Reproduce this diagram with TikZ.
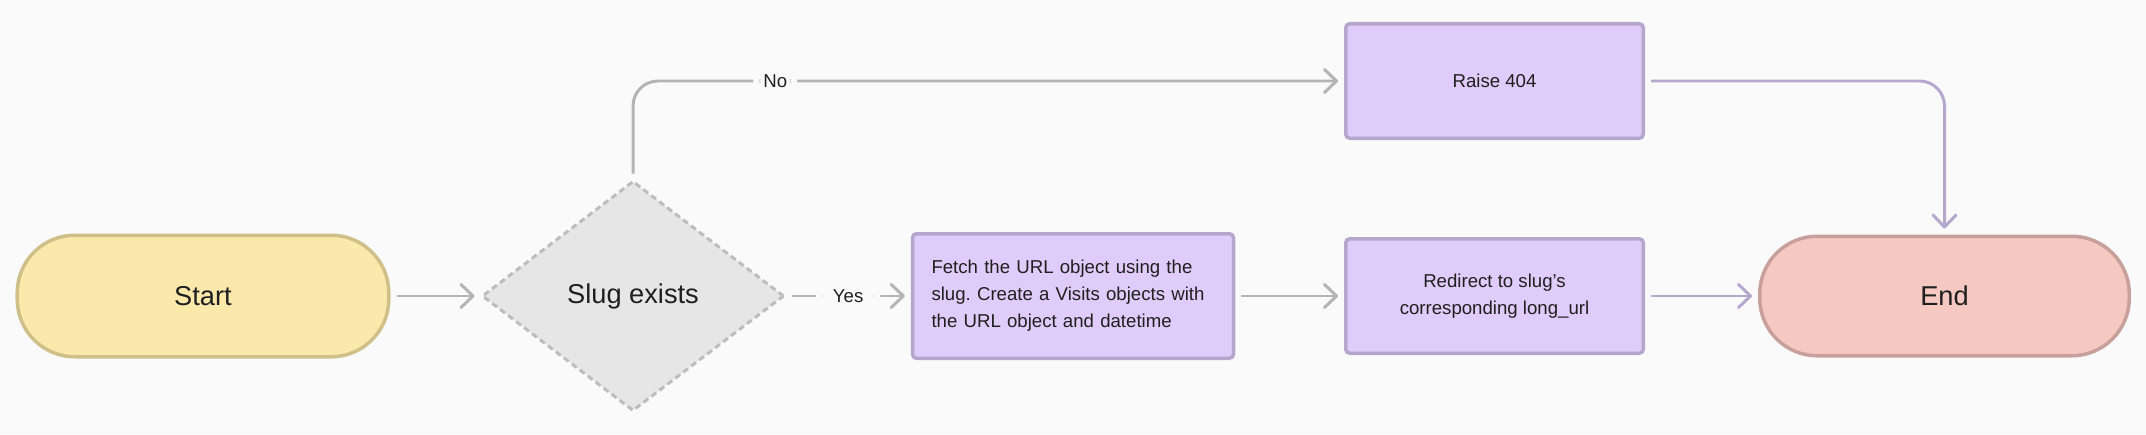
\documentclass[tikz,border=0pt]{standalone}
\usepackage{fontspec}
\setmainfont{Liberation Sans}
\usetikzlibrary{arrows.meta,shapes.geometric,positioning,calc}
\frenchspacing
\definecolor{paper}{HTML}{FAFAFA}
\definecolor{ink}{HTML}{1F1F1F}
\definecolor{wire}{HTML}{B4B4B4}
\definecolor{lilac}{HTML}{B6A7CF}
\definecolor{startfill}{HTML}{FBE9AC}
\definecolor{startline}{HTML}{CFC08A}
\definecolor{testfill}{HTML}{E6E6E6}
\definecolor{testline}{HTML}{BDBDBD}
\definecolor{procfill}{HTML}{E0CCFA}
\definecolor{procline}{HTML}{B5A6CE}
\definecolor{endfill}{HTML}{F5C8C2}
\definecolor{endline}{HTML}{C8A09B}
\newcommand{\RowY}{2.76}
\newcommand{\TopY}{7.06}
\newcommand{\StartX}{4.06}
\newcommand{\TestX}{12.66}
\newcommand{\FetchX}{21.46}
\newcommand{\StepX}{29.89}
\newcommand{\EndX}{38.89}

\begin{document}
\begin{tikzpicture}[
    font=\fontsize{10.6}{15.4}\selectfont, ink,
    flow/.style={-{Straight Barb[length=2.4mm, width=4.6mm, round]}, line width=1.7pt, draw=wire, rounded corners=0.5cm, shorten <=1.2mm, shorten >=1.2mm},
    answer/.style={fill=paper, inner xsep=0.2cm, inner ysep=1pt, text=ink},
    terminal/.style={line width=0.07cm, rounded corners=1.15cm, minimum width=7.43cm, minimum height=2.43cm, font=\fontsize{15.5}{18}\selectfont},
    test/.style={diamond, aspect=1.3, draw=testline, fill=testfill, line width=0.06cm, dash pattern=on 1.2mm off 0.8mm, minimum width=6.04cm, minimum height=4.6cm, font=\fontsize{15.5}{18}\selectfont},
    process/.style={draw=procline, fill=procfill, line width=0.07cm, rounded corners=0.08cm, minimum width=5.95cm, minimum height=2.29cm, align=center},
  ]

\useasboundingbox[fill=paper] (0,0) rectangle (42.92,8.68);

% --- Main row ------------------------------------------------------------------
\node[terminal, draw=startline, fill=startfill] (start) at (\StartX, \RowY) {Start};
\node[test] (slug) at (\TestX, \RowY) {Slug exists};
\node[process, text width=5.66cm, align=left, inner xsep=0.38cm, minimum height=2.49cm] (fetch) at (\FetchX, \RowY)
  {Fetch the URL object using the slug. Create a Visits objects with the URL object and datetime};
\node[process] (redirect) at (\StepX, \RowY) {Redirect to slug’s\\corresponding long\_url};
\node[terminal, draw=endline, fill=endfill, minimum width=7.39cm, minimum height=2.39cm] (end) at (\EndX, \RowY) {End};

% --- The missing slug ------------------------------------------------------------
\node[process] (raise) at (\StepX, \TopY) {Raise 404};

% --- Edges ---------------------------------------------------------------------
\draw[flow] (start.east) -- (slug.west);
\draw[flow] (slug.east) -- node[answer, inner xsep=0.34cm] {Yes} (fetch.west);
\draw[flow] (slug.north) |- node[answer, pos=0.6] {No} (raise.west);
\draw[flow] (fetch.east) -- (redirect.west);
\draw[flow, draw=lilac] (redirect.east) -- (end.west);
\draw[flow, draw=lilac] (raise.east) -| (end.north);

\end{tikzpicture}
\end{document}
